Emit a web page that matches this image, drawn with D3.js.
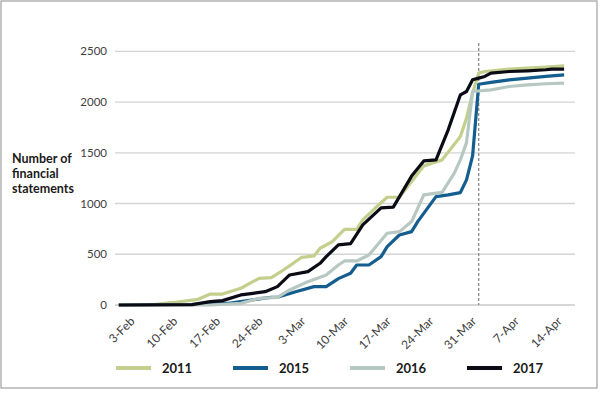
<!DOCTYPE html>
<html><head><meta charset="utf-8">
<script src="https://cdn.jsdelivr.net/npm/d3@7"></script>
<style>
html,body{margin:0;padding:0;background:#fff;}
svg{display:block;font-family:Lato,"Open Sans",sans-serif;}
</style></head>
<body>
<svg id="chart" width="600" height="395"></svg>
<script>
const yTicks = [0, 500, 1000, 1500, 2000, 2500];
const xTickDates = ["2017-02-03","2017-02-10","2017-02-17","2017-02-24","2017-03-03","2017-03-10","2017-03-17","2017-03-24","2017-03-31","2017-04-07","2017-04-14"];
const deadline = "2017-04-01";

const dates2011 = ["02-01","02-06","02-10","02-14","02-16","02-18","02-21","02-24","02-26","02-28","03-03","03-05","03-06","03-08","03-10","03-12","03-13","03-15","03-17","03-19","03-21","03-23","03-26","03-29","03-30","03-31","04-01","04-02","04-06","04-12","04-15"];
const values2011 = [0,0,25,56,108,108,165,263,270,345,470,483,559,624,746,746,838,953,1062,1062,1216,1371,1430,1660,1841,2088,2285,2301,2324,2344,2357];

const dates2015 = ["02-01","02-13","02-16","02-19","02-21","02-24","02-26","02-27","03-02","03-05","03-07","03-09","03-11","03-12","03-14","03-16","03-17","03-19","03-21","03-22","03-25","03-27","03-29","03-30","03-31","04-01","04-03","04-06","04-09","04-12","04-15"];
const values2015 = [0,5,16,16,33,60,76,76,131,181,181,260,313,394,394,476,575,690,723,822,1068,1085,1108,1233,1470,2175,2193,2219,2236,2252,2268];

const dates2016 = ["02-01","02-16","02-21","02-24","02-27","03-01","03-04","03-07","03-09","03-10","03-12","03-14","03-17","03-19","03-21","03-23","03-26","03-28","03-29","03-30","03-31","04-03","04-06","04-09","04-12","04-15"];
const values2016 = [0,0,16,66,76,148,230,296,394,434,434,493,707,723,822,1085,1110,1299,1430,1600,2104,2120,2153,2170,2180,2186];

const dates2017 = ["02-01","02-13","02-16","02-18","02-21","02-23","02-25","02-27","03-01","03-04","03-06","03-07","03-09","03-11","03-13","03-16","03-18","03-21","03-23","03-25","03-27","03-29","03-30","03-31","04-01","04-02","04-03","04-06","04-09","04-12","04-13","04-15"];
const values2017 = [0,3,33,43,99,115,131,181,296,329,411,476,592,605,789,957,965,1270,1420,1430,1726,2071,2104,2219,2236,2252,2285,2301,2308,2318,2324,2324];

const seriesNames = ["2011","2015","2016","2017"];
const seriesColors = ["#c3cf8c","#135e8f","#b6c8c1","#0b0b16"];

const parse = d3.timeParse("%Y-%m-%d");
const build = (ds, vs) => ds.map((d, i) => ({date: parse("2017-" + d), value: vs[i]}));
const series = [
  build(dates2011, values2011),
  build(dates2015, values2015),
  build(dates2016, values2016),
  build(dates2017, values2017)
];

const svg = d3.select("#chart");
// frame
svg.append("rect").attr("x", 1).attr("y", 1).attr("width", 596).attr("height", 387)
  .attr("fill", "none").attr("stroke", "#a0a0a0").attr("stroke-width", 1.2);

const x = d3.scaleTime()
  .domain([parse("2017-02-01"), parse("2017-04-15")])
  .range([118.8, 564.1]);
const y = d3.scaleLinear().domain([0, 2500]).range([305, 51.3]);

// gridlines
svg.append("g").selectAll("line").data(yTicks).join("line")
  .attr("x1", 115).attr("x2", 575)
  .attr("y1", d => y(d)).attr("y2", d => y(d))
  .attr("stroke", d => d === 0 ? "#c8c8c8" : "#d4d4d4").attr("stroke-width", 1.3);

// y axis labels
const yAxis = d3.axisLeft(y).tickValues(yTicks).tickSize(0).tickPadding(0).tickFormat(d3.format("d"));
const gy = svg.append("g").attr("transform", "translate(107,0)").call(yAxis);
gy.select(".domain").remove();
gy.selectAll("text").attr("font-family", "Lato, sans-serif").attr("font-size", 11.5).attr("fill", "#404040");

// x axis labels
const xAxis = d3.axisBottom(x).tickValues(xTickDates.map(parse)).tickSize(0).tickFormat(d3.timeFormat("%-d-%b"));
const gx = svg.append("g").attr("transform", "translate(0,305)").call(xAxis);
gx.select(".domain").remove();
gx.selectAll("text")
  .attr("font-family", "Lato, sans-serif").attr("font-size", 12).attr("fill", "#404040")
  .attr("text-anchor", "end").attr("dy", null).attr("y", null)
  .attr("transform", "translate(4,17) rotate(-45)");

// deadline dashed line
svg.append("line")
  .attr("x1", x(parse(deadline))).attr("x2", x(parse(deadline)))
  .attr("y1", 43).attr("y2", 305)
  .attr("stroke", "#8a8a8a").attr("stroke-width", 1.3).attr("stroke-dasharray", "3,2");

// lines
const line = d3.line().x(d => x(d.date)).y(d => y(d.value));
svg.append("g").selectAll("path").data(series).join("path")
  .attr("d", line)
  .attr("fill", "none")
  .attr("stroke", (d, i) => seriesColors[i])
  .attr("stroke-width", 3.2)
  .attr("stroke-linejoin", "round");

// y title
const yt = svg.append("text").attr("x", 12).attr("y", 163)
  .attr("font-family", "Lato, sans-serif").attr("font-size", 12.5).attr("font-weight", "bold").attr("fill", "#1a1a1a");
["Number of", "financial", "statements"].forEach((t, i) => {
  yt.append("tspan").attr("x", 12).attr("dy", i === 0 ? 0 : 15).text(t);
});

// legend
const legX = [116, 233, 350, 467];
const lg = svg.append("g").selectAll("g").data(seriesNames).join("g")
  .attr("transform", (d, i) => `translate(${legX[i]},368)`);
lg.append("line").attr("x1", 0).attr("x2", 35).attr("y1", 0).attr("y2", 0)
  .attr("stroke", (d, i) => seriesColors[i]).attr("stroke-width", 4);
lg.append("text").attr("x", 46).attr("y", 0).attr("dy", "0.35em")
  .attr("font-family", "Lato, sans-serif").attr("font-size", 13).attr("font-weight", "bold").attr("fill", "#1a1a1a")
  .text(d => d);
</script>
</body></html>
